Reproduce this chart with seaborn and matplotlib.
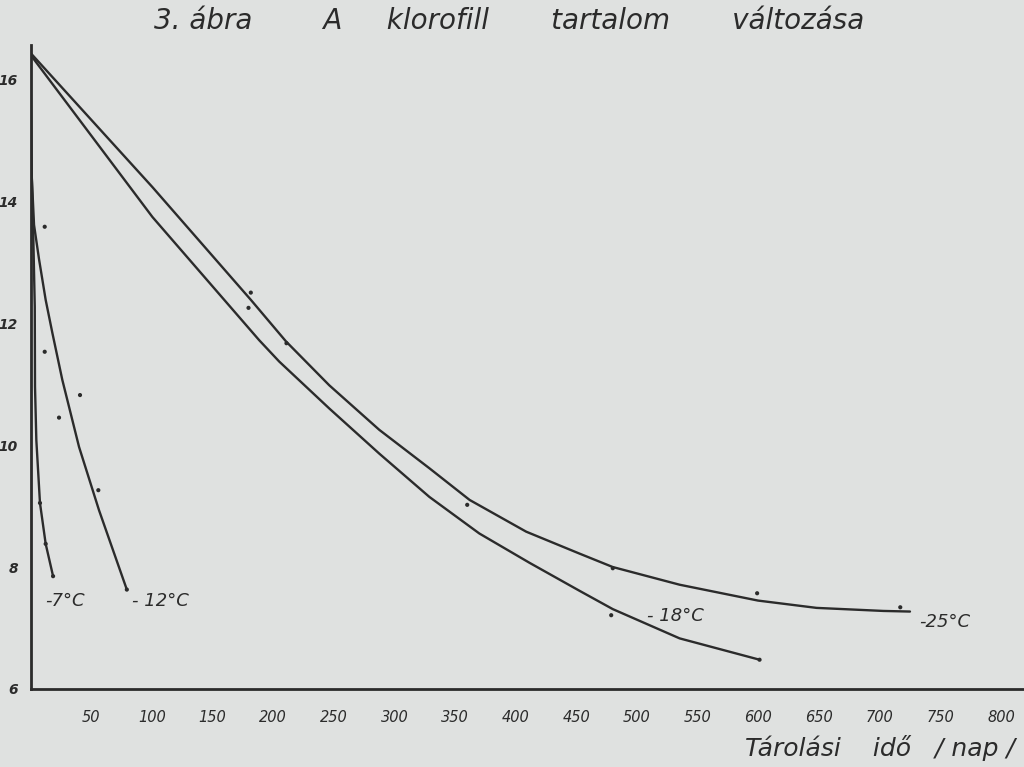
import numpy as np
import pandas as pd
import matplotlib
matplotlib.use("Agg")
import matplotlib.pyplot as plt
import seaborn as sns

# ---- data ----
series_names = ["-25°C", "-18°C", "-12°C", "-7°C"]

days_m25 = [0, 100.5, 181.7, 210.6, 246.3, 287.5, 328.8, 362, 408.6, 452.6,
            480, 535.1, 599.7, 648, 703, 725]
vals_m25 = [16.43, 14.23, 12.38, 11.70, 10.98, 10.25, 9.62, 9.10, 8.58, 8.22,
            8.00, 7.71, 7.45, 7.33, 7.28, 7.27]

days_m18 = [0, 100.5, 188.5, 205, 246.3, 287.5, 328.8, 370, 411.3, 452.6,
            480, 535.1, 601]
vals_m18 = [16.40, 13.74, 11.72, 11.37, 10.60, 9.86, 9.15, 8.55, 8.07, 7.61,
            7.31, 6.83, 6.48]

days_m12 = [0, 0.8, 2.9, 7, 12.5, 18, 26.2, 40, 56.5, 79.4]
vals_m12 = [16.43, 14.50, 13.61, 13.05, 12.38, 11.84, 11.07, 9.97, 8.93, 7.63]

days_m7 = [0, 0.5, 2.1, 3.5, 3.7, 4.8, 7.8, 12.5, 18.6]
vals_m7 = [16.43, 14.80, 13.60, 12.27, 10.96, 10.08, 9.05, 8.38, 7.85]

# measured points (dots)
pt_days = [181.6, 179.7, 211, 360, 480, 599, 717, 478.7, 601,
           11.7, 11.7, 23.5, 40.8, 55.9, 79.4, 7.8, 12.5, 18.6]
pt_vals = [12.50, 12.25, 11.67, 9.02, 7.98, 7.57, 7.34, 7.21, 6.48,
           13.58, 11.53, 10.45, 10.82, 9.26, 7.63, 9.05, 8.38, 7.85]

x_ticks = [50, 100, 150, 200, 250, 300, 350, 400, 450, 500, 550, 600, 650, 700, 750, 800]
y_ticks = [6, 8, 10, 12, 14, 16]

title = "3. ábra        A     klorofill       tartalom       változása"
xlabel = "Tárolási    idő   / nap /"

# ---- build long table ----
frames = []
for name, d, v in zip(series_names,
                      [days_m25, days_m18, days_m12, days_m7],
                      [vals_m25, vals_m18, vals_m12, vals_m7]):
    frames.append(pd.DataFrame({"nap": d, "klorofill": v, "sorozat": name}))
df = pd.concat(frames, ignore_index=True)
pts = pd.DataFrame({"nap": pt_days, "klorofill": pt_vals})

bg = "#dfe1e0"
ink = "#2b2b2b"

sns.set_theme(style="white")
plt.rcParams["font.family"] = ["DejaVu Sans"]

fig = plt.figure(figsize=(10.24, 7.67), dpi=100, facecolor=bg)
ax = fig.add_axes([0.0298, 0.1017, 0.9702, 0.8396])
ax.set_facecolor(bg)

sns.lineplot(data=df, x="nap", y="klorofill", hue="sorozat", units="sorozat",
             estimator=None, sort=False, palette=[ink] * 4, linewidth=1.7,
             legend=False, ax=ax)
sns.scatterplot(data=pts, x="nap", y="klorofill", color=ink, s=9,
                edgecolor="none", ax=ax, zorder=5)

ax.set_xlim(0, 819)
ax.set_ylim(6, 16.56)
for s in ["top", "right"]:
    ax.spines[s].set_visible(False)
for s in ["left", "bottom"]:
    ax.spines[s].set_linewidth(2.0)
    ax.spines[s].set_color(ink)

ax.set_xticks(x_ticks)
ax.set_xticklabels([str(t) for t in x_ticks], fontsize=10.5, style="italic")
ax.set_yticks(y_ticks)
ax.set_yticklabels([str(t) for t in y_ticks], fontsize=10, fontweight="bold",
                   style="italic")
ax.tick_params(axis="x", direction="in", length=5, width=1.2, color=ink,
               pad=15, labelcolor=ink)
ax.tick_params(axis="y", direction="out", length=6, width=1.5, color=ink,
               pad=3, labelcolor=ink)
ax.set_xlabel("")
ax.set_ylabel("")

# curve labels
lab_kw = dict(fontsize=13, style="italic", color=ink, va="center", ha="left")
ax.text(12, 7.45, "-7°C", **lab_kw)
ax.text(84, 7.45, "- 12°C", **lab_kw)
ax.text(508, 7.2, "- 18°C", **lab_kw)
ax.text(733, 7.1, "-25°C", **lab_kw)

fig.text(0.497, 0.972, title, ha="center", va="center", fontsize=20,
         style="italic", color=ink)
fig.text(0.991, 0.025, xlabel, ha="right", va="center", fontsize=18,
         style="italic", color=ink)

fig.savefig("out.png", dpi=100, facecolor=bg)
